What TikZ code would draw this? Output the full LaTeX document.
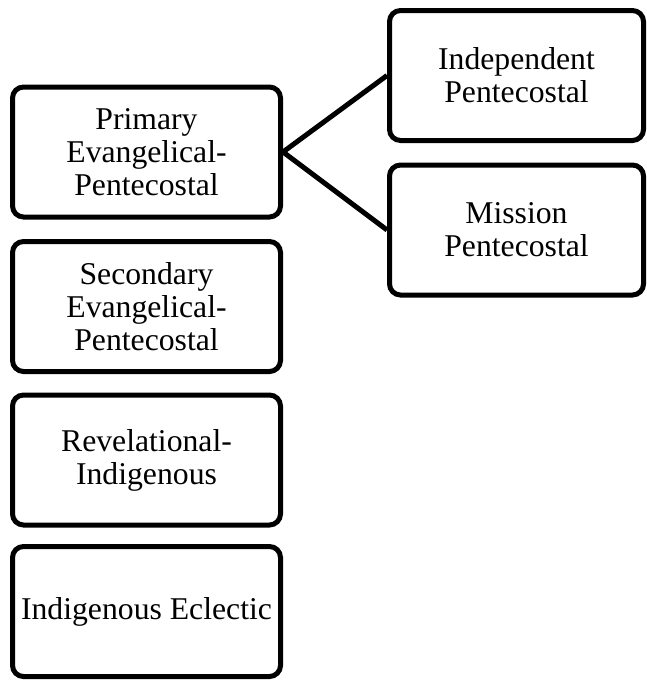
\documentclass[tikz,border=0pt]{standalone}
\usepackage{fontspec}
\setmainfont{Liberation Serif}
\begin{document}
\begin{tikzpicture}[x=1pt,y=-1pt,
  box/.style={draw=black, line width=5pt, rounded corners=11pt, align=center,
    inner sep=0pt, font=\fontsize{31.7}{33}\selectfont, minimum height=130pt},
  leftbox/.style={box, minimum width=268pt},
  rightbox/.style={box, minimum width=254pt},
  link/.style={draw=black, line width=5pt}]
\useasboundingbox (0,0) rectangle (646,680);
% left column of categories
\node[leftbox] (pep) at (146.5,152)   {Primary\\Evangelical-\\Pentecostal};
\node[leftbox] (sep) at (146.5,306.5) {Secondary\\Evangelical-\\Pentecostal};
\node[leftbox] (ri)  at (146.5,460)   {Revelational-\\Indigenous};
\node[leftbox] (ie)  at (146.5,611.5) {Indigenous Eclectic};
% subdivisions of the first category
\node[rightbox] (ip) at (516.5,75.5) {Independent\\Pentecostal};
\node[rightbox] (mp) at (516.5,230)  {Mission\\Pentecostal};
% branches
\draw[link] (pep.east) -- (ip.west);
\draw[link] (pep.east) -- (mp.west);
\end{tikzpicture}
\end{document}
